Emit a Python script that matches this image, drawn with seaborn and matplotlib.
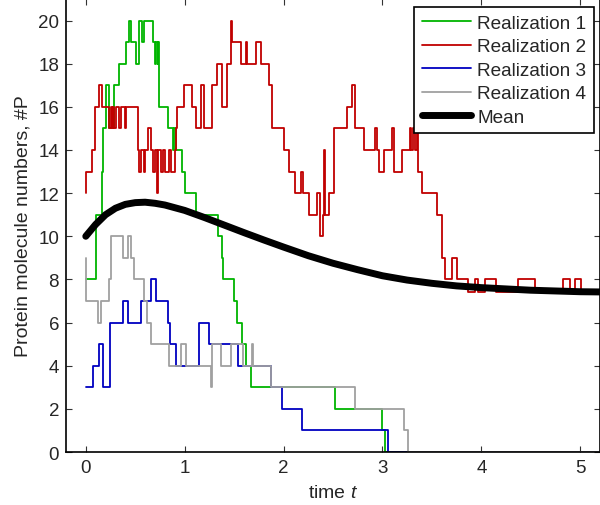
import numpy as np
import pandas as pd
import matplotlib
matplotlib.use("Agg")
import matplotlib.pyplot as plt
import seaborn as sns

# ---- data ----
r1_t = [0, 0.105, 0.165, 0.178, 0.206, 0.232, 0.289, 0.340, 0.407, 0.441,
        0.458, 0.508, 0.541, 0.572, 0.592, 0.682, 0.703, 0.713, 0.728, 0.733,
        0.738, 0.743, 0.827, 0.877, 0.894, 0.911, 0.978, 1.005, 1.113, 1.341,
        1.375, 1.386, 1.499, 1.532, 1.583, 1.620, 1.667, 2.524, 2.994, 3.021, 5.2]
r1_v = [8, 11, 13, 15, 17, 15, 17, 18, 19, 20,
        19, 18, 20, 19, 20, 19, 18, 19, 18, 19,
        17, 16, 15, 14, 15, 14, 13, 12, 11, 10,
        9, 8, 7, 6, 5, 4, 3, 2, 1, 0, 0]

r2_t = [0, 0.005, 0.060, 0.098, 0.131, 0.165, 0.239, 0.254, 0.264, 0.279,
        0.289, 0.306, 0.340, 0.355, 0.400, 0.410, 0.524, 0.541, 0.562, 0.587,
        0.602, 0.625, 0.659, 0.682, 0.703, 0.723, 0.733, 0.763, 0.783, 0.803,
        0.844, 0.864, 0.899, 0.914, 0.927, 0.995, 1.079, 1.113, 1.163, 1.197,
        1.280, 1.331, 1.381, 1.431, 1.466, 1.482, 1.567, 1.617, 1.633, 1.718,
        1.768, 1.852, 1.885, 2.003, 2.053, 2.114, 2.174, 2.194, 2.255, 2.336,
        2.366, 2.396, 2.406, 2.423, 2.457, 2.507, 2.641, 2.692, 2.719, 2.726,
        2.809, 2.927, 2.941, 2.961, 3.011, 3.095, 3.119, 3.196, 3.280, 3.293,
        3.314, 3.334, 3.354, 3.364, 3.397, 3.548, 3.599, 3.633, 3.700, 3.750,
        3.868, 3.935, 3.969, 4.036, 4.153, 4.372, 4.540, 4.825, 4.893, 4.944,
        5.010, 5.2]
r2_v = [12, 13, 14, 16, 17, 16, 15, 16, 15, 16,
        15, 16, 15, 16, 15, 16, 14, 13, 14, 13,
        14, 15, 14, 13, 14, 12, 14, 13, 14, 13,
        14, 13, 14, 15, 16, 17, 16, 15, 17, 15,
        17, 18, 16, 18, 20, 19, 18, 19, 18, 19,
        18, 17, 15, 14, 13, 12, 13, 12, 11, 12,
        10, 11, 14, 11, 12, 15, 16, 17, 16, 15,
        14, 15, 14, 13, 14, 15, 13, 14, 15, 14,
        15, 14, 15, 13, 12, 11, 9, 8, 9, 8,
        7.4, 8, 7.4, 8, 7.4, 8, 7.4, 8, 7.4, 8,
        7.4, 7.4]

r3_t = [0, 0.071, 0.138, 0.178, 0.244, 0.373, 0.423, 0.558, 0.662, 0.713,
        0.827, 0.849, 0.911, 1.146, 1.247, 1.539, 1.869, 1.986, 2.188, 3.061, 5.2]
r3_v = [3, 4, 5, 3, 6, 7, 6, 7, 8, 7,
        6, 5, 4, 6, 5, 4, 3, 2, 1, 0, 0]

r4_t = [0, 0.004, 0.121, 0.155, 0.239, 0.256, 0.373, 0.423, 0.458, 0.491,
        0.592, 0.622, 0.659, 0.844, 0.962, 1.012, 1.264, 1.280, 1.365, 1.466,
        1.590, 1.683, 1.696, 1.869, 2.726, 3.213, 3.263, 5.2]
r4_v = [9, 7, 6, 7, 8, 10, 9, 10, 9, 8,
        7, 6, 5, 4, 5, 4, 3, 5, 4, 5,
        4, 5, 4, 3, 2, 1, 0, 0]

mean_t = [0, 0.1, 0.2, 0.3, 0.4, 0.5, 0.6, 0.7, 0.8, 1.0, 1.2, 1.4, 1.6, 1.8,
          2.0, 2.25, 2.5, 2.75, 3.0, 3.25, 3.5, 3.75, 4.0, 4.5, 5.0, 5.2]
mean_v = [10.0, 10.55, 11.0, 11.3, 11.48, 11.56, 11.58, 11.53, 11.45, 11.2,
          10.87, 10.52, 10.17, 9.83, 9.5, 9.1, 8.75, 8.45, 8.17, 7.97, 7.82,
          7.7, 7.62, 7.5, 7.43, 7.42]

names = ["Realization 1", "Realization 2", "Realization 3", "Realization 4"]
colors = ["#00b400", "#c00000", "#0000c0", "#a0a0a0"]
x_ticks = [0, 1, 2, 3, 4, 5]
y_ticks = [0, 2, 4, 6, 8, 10, 12, 14, 16, 18, 20]

# ---- build long table ----
frames = []
for n, t, v in zip(names, [r1_t, r2_t, r3_t, r4_t], [r1_v, r2_v, r3_v, r4_v]):
    frames.append(pd.DataFrame({"t": t, "P": v, "run": n}))
df = pd.concat(frames, ignore_index=True)
dmean = pd.DataFrame({"t": mean_t, "P": mean_v})

sns.set_style("ticks")
plt.rcParams["font.family"] = ["Liberation Sans", "DejaVu Sans"]
plt.rcParams["mathtext.fontset"] = "custom"
plt.rcParams["mathtext.it"] = "Liberation Sans:italic"
plt.rcParams["mathtext.rm"] = "Liberation Sans"

fig = plt.figure(figsize=(6.0, 5.06), dpi=100)
ax = fig.add_axes([66 / 600, 1 - 453 / 506, (600 - 66) / 600, 453 / 506])

for n, c in zip(names, colors):
    sub = df[df["run"] == n]
    sns.lineplot(data=sub, x="t", y="P", ax=ax, color=c, label=n,
                 estimator=None, sort=False, drawstyle="steps-post",
                 linewidth=1.3)
sns.lineplot(data=dmean, x="t", y="P", ax=ax, color="black", label="Mean",
             estimator=None, sort=False, linewidth=5.0)

ax.set_xlim(-0.2, 5.2)
ax.set_ylim(0, 21)
ax.set_xticks(x_ticks)
ax.set_yticks(y_ticks)
ax.set_xlabel("time $t$", fontsize=14, labelpad=6)
ax.set_ylabel("Protein molecule numbers, #P", fontsize=14, labelpad=5)
ax.tick_params(direction="in", top=True, right=True, length=4, width=0.8,
               labelsize=13.5, pad=5, color="#333333")
for s in ax.spines.values():
    s.set_linewidth(1.2)
    s.set_color("black")
    s.set_visible(True)

handles, labels = ax.get_legend_handles_labels()
leg = ax.legend(handles, labels, loc="upper right",
                bbox_to_anchor=(0.989, 0.982), borderaxespad=0,
                fontsize=13.7, frameon=True, fancybox=False, framealpha=1,
                edgecolor="black", handlelength=2.6, handletextpad=0.32,
                labelspacing=0.32, borderpad=0.4)
leg.get_frame().set_linewidth(1.2)

fig.savefig("out.png", dpi=100)
